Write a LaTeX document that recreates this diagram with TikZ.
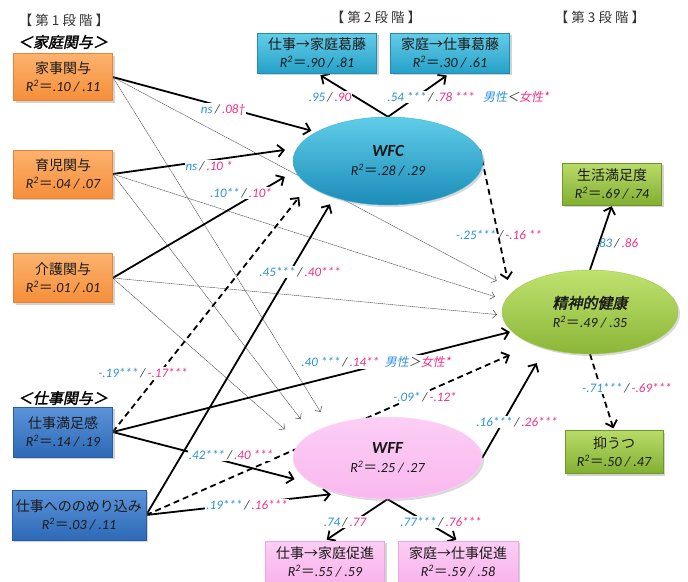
\documentclass[tikz,border=0pt]{standalone}
\usepackage{fontspec}
\setmainfont{Carlito}
\newfontfamily\jp{Noto Sans CJK JP}
\newfontfamily\jpsl[FakeSlant=0.2]{Noto Sans CJK JP}
\newfontfamily\jpbsl[FakeSlant=0.2,FakeBold=2]{Noto Sans CJK JP}
\usetikzlibrary{arrows.meta,shadows,shapes.geometric}
\pgfdeclarelayer{bg}
\pgfsetlayers{bg,main}
\definecolor{nb}{RGB}{45,145,218}
\definecolor{np}{RGB}{245,45,135}
\definecolor{sl}{RGB}{60,60,60}
\definecolor{ttl}{RGB}{50,50,50}
\newcommand\rsq[1]{{\itshape R\textsuperscript{2}}{\jp ＝}{\itshape #1}}
\newcommand\pr[2]{\textcolor{nb}{#1}\,\textcolor{sl}{/}\,\textcolor{np}{#2}}
\tikzset{
  box/.style={rectangle, align=center, inner sep=1pt, text=black!90,
    font=\fontsize{14}{18}\selectfont,
    drop shadow={shadow xshift=2pt,shadow yshift=-2pt,opacity=0.35}},
  obox/.style={box, top color={rgb,255:red,252;green,178;blue,110}, bottom color={rgb,255:red,246;green,142;blue,58}, draw={rgb,255:red,232;green,132;blue,50}},
  cbox/.style={box, top color={rgb,255:red,100;green,205;blue,232}, bottom color={rgb,255:red,38;green,160;blue,200}, draw={rgb,255:red,30;green,140;blue,180}},
  bbox/.style={box, top color={rgb,255:red,92;green,148;blue,218}, bottom color={rgb,255:red,45;green,105;blue,182}, draw={rgb,255:red,40;green,92;blue,165}},
  gbox/.style={box, top color={rgb,255:red,185;green,218;blue,105}, bottom color={rgb,255:red,130;green,175;blue,50}, draw={rgb,255:red,112;green,152;blue,40}},
  pbox/.style={box, top color={rgb,255:red,252;green,205;blue,244}, bottom color={rgb,255:red,248;green,180;blue,236}, draw={rgb,255:red,238;green,165;blue,228}},
  ell/.style={ellipse, align=center, inner sep=0pt, text=black!90,
    font=\fontsize{14}{19}\selectfont,
    drop shadow={shadow xshift=2pt,shadow yshift=-2pt,opacity=0.3}},
  thk/.style={line width=1.8pt, -{Straight Barb[length=6pt,width=12pt]}},
  thkd/.style={thk, dash pattern=on 6pt off 4pt},
  thn/.style={line width=0.45pt, black!70, dash pattern=on 1.5pt off 0.5pt, -{Straight Barb[length=4pt,width=8pt,line width=0.5pt]}},
  lab/.style={font=\fontsize{13}{15}\selectfont\itshape, inner sep=1pt},
  labw/.style={lab, fill=white},
  ttlst/.style={text=ttl, font=\jp\fontsize{13.5}{16}\selectfont}
}
\begin{document}
\begin{tikzpicture}[x=1pt,y=-1pt]
\useasboundingbox (0,0) rectangle (688,581);

% titles
\node[ttlst] (t1) at (64,20) {【 第 1 段 階 】};
\node[ttlst] (t2) at (376,17) {【 第 2 段 階 】};
\node[ttlst] (t3) at (600,17) {【 第 3 段 階 】};
\node[font=\jpbsl\fontsize{15}{17}\selectfont] (h1) at (63,42) {＜家庭関与＞};
\node[font=\jpbsl\fontsize{15}{17}\selectfont] (h2) at (63,398) {＜仕事関与＞};

% boxes
\node[obox, minimum width=99pt, minimum height=47pt] (kaji) at (63,77) {{\jp 家事関与}\\\rsq{.10 / .11}};
\node[obox, minimum width=99pt, minimum height=48pt] (ikuji) at (63,174) {{\jp 育児関与}\\\rsq{.04 / .07}};
\node[obox, minimum width=99pt, minimum height=49pt] (kaigo) at (63,278) {{\jp 介護関与}\\\rsq{.01 / .01}};
\node[bbox, minimum width=99pt, minimum height=50pt] (manzoku) at (63,432) {{\jp 仕事満足感}\\\rsq{.14 / .19}};
\node[bbox, minimum width=134pt, minimum height=50pt] (nome) at (79,515) {{\jp 仕事へののめり込み}\\\rsq{.03 / .11}};
\node[cbox, minimum width=119pt, minimum height=40pt] (b1) at (317,53) {{\jp 仕事→家庭葛藤}\\\rsq{.90 / .81}};
\node[cbox, minimum width=119pt, minimum height=40pt] (b2) at (450,53) {{\jp 家庭→仕事葛藤}\\\rsq{.30 / .61}};
\node[gbox, minimum width=99pt, minimum height=42pt] (seik) at (612,184) {{\jp 生活満足度}\\\rsq{.69 / .74}};
\node[gbox, minimum width=98pt, minimum height=43pt] (yoku) at (614,452) {{\jp 抑うつ}\\\rsq{.50 / .47}};
\node[pbox, minimum width=119pt, minimum height=42pt] (p1) at (325,562) {{\jp 仕事→家庭促進}\\\rsq{.55 / .59}};
\node[pbox, minimum width=120pt, minimum height=42pt] (p2) at (458,562) {{\jp 家庭→仕事促進}\\\rsq{.59 / .58}};

% ellipses
\node[ell, minimum width=190pt, minimum height=88pt, top color={rgb,255:red,95;green,205;blue,232}, bottom color={rgb,255:red,28;green,140;blue,185}, draw={rgb,255:red,60;green,180;blue,215}] (wfc) at (388,161) {{\bfseries\itshape\fontsize{17}{20}\selectfont WFC}\\\rsq{.28 / .29}};
\node[ell, minimum width=176pt, minimum height=84pt, top color={rgb,255:red,192;green,226;blue,112}, bottom color={rgb,255:red,138;green,182;blue,55}, draw={rgb,255:red,160;green,200;blue,80}] (mh) at (590,312) {{\jpbsl\fontsize{15}{19}\selectfont 精神的健康}\\\rsq{.49 / .35}};
\node[ell, minimum width=189pt, minimum height=82pt, top color={rgb,255:red,252;green,206;blue,245}, bottom color={rgb,255:red,249;green,184;blue,238}, draw={rgb,255:red,252;green,215;blue,248}] (wff) at (387.5,458) {{\bfseries\itshape\fontsize{17}{20}\selectfont WFF}\\\rsq{.25 / .27}};

\begin{pgfonlayer}{bg}
% thin paths
\draw[thn, shorten >=20pt] (kaji.east) -- (mh.164.7);
\draw[thn, shorten >=11pt] (ikuji.east) -- (mh.172.2);
\draw[thn, shorten >=5pt] (kaigo.east) -- (mh.182.3);
\draw[thn, shorten >=16pt] (kaji.east) -- (wff.151.5);
\draw[thn, shorten >=18pt] (ikuji.east) -- (wff.162.9);
\draw[thn, shorten >=20pt] (kaigo.east) -- (wff.170.3);
% thick paths to WFC
\draw[thk, shorten >=5pt] (kaji.east) -- (wfc.158);
\draw[thk, shorten >=12pt] (ikuji.east) -- (wfc.172);
\draw[thk, shorten >=12pt] (kaigo.east) -- (wfc.186.6);
\draw[thkd, shorten >=15pt] (manzoku.east) -- (wfc.197.5);
\draw[thk, shorten >=8pt] (nome.east) -- (wfc.214.5);
% to WFF
\draw[thk, shorten >=21pt] (manzoku.east) -- (wff.200);
\draw[thk, shorten >=8pt] (nome.east) -- (wff.216);
% to mental health
\draw[thk, shorten >=2pt] (manzoku.east) -- (mh.194);
\draw[thkd, shorten >=26pt] (nome.east) -- (mh.210);
\draw[thkd, shorten >=14pt] (wfc.7) -- (mh.167);
\draw[thk, shorten >=17pt] (wff.east) -- (mh.219.4);
% indicators
\draw[thk, shorten >=4pt] (wfc.north) -- (b1.south);
\draw[thk, shorten >=4pt] (wfc.north) -- (b2.south);
\draw[thk, shorten >=2pt] (wff.south) -- (p1.north);
\draw[thk, shorten >=2pt] (wff.south) -- (p2.north);
\draw[thk, shorten >=1pt] (mh.north) -- (seik.south);
\draw[thkd, shorten >=2pt] (mh.south) -- (yoku.north);
\end{pgfonlayer}

% labels
\node[labw] (l1) at (223,110) {\pr{ns}{.08\textdagger}};
\node[labw] (l2) at (209,166) {\pr{ns}{.10 *}};
\node[labw] (l3) at (241,193) {\pr{.10**}{.10*}};
\node[labw] (l4) at (300,272) {\pr{.45***}{.40***}};
\node[labw] (l5) at (143,373) {\pr{-.19***}{-.17***}};
\node[labw] (l6) at (231,455) {\pr{.42***}{.40 ***}};
\node[labw] (l7) at (247,505) {\pr{.19***}{.16***}};
\node[labw] (l8) at (376,362) {\pr{.40 ***}{.14**}\ \ {\jpsl\fontsize{12}{14}\selectfont\textcolor{nb}{男性}\textcolor{sl}{＞}\textcolor{np}{女性*}}};
\node[labw] (l9) at (425,397) {\pr{-.09*}{-.12*}};
\node[labw] (l10) at (330,97) {\pr{.95}{.90}};
\node[labw] (l11) at (431,97) {\pr{.54 ***}{.78 ***}};
\node[lab] (l12) at (516,97) {{\jpsl\fontsize{12}{14}\selectfont\textcolor{nb}{男性}\textcolor{sl}{＜}\textcolor{np}{女性*}}};
\node[lab] (l13) at (499,235) {\pr{-.25***}{-.16 **}};
\node[lab] (l14) at (617,243) {\pr{.83}{.86}};
\node[labw] (l15) at (627,388) {\pr{-.71***}{-.69***}};
\node[labw] (l16) at (517,422) {\pr{.16***}{.26***}};
\node[labw] (l17) at (345,522) {\pr{.74}{.77}};
\node[labw] (l18) at (441,522) {\pr{.77***}{.76***}};
\end{tikzpicture}
\end{document}
